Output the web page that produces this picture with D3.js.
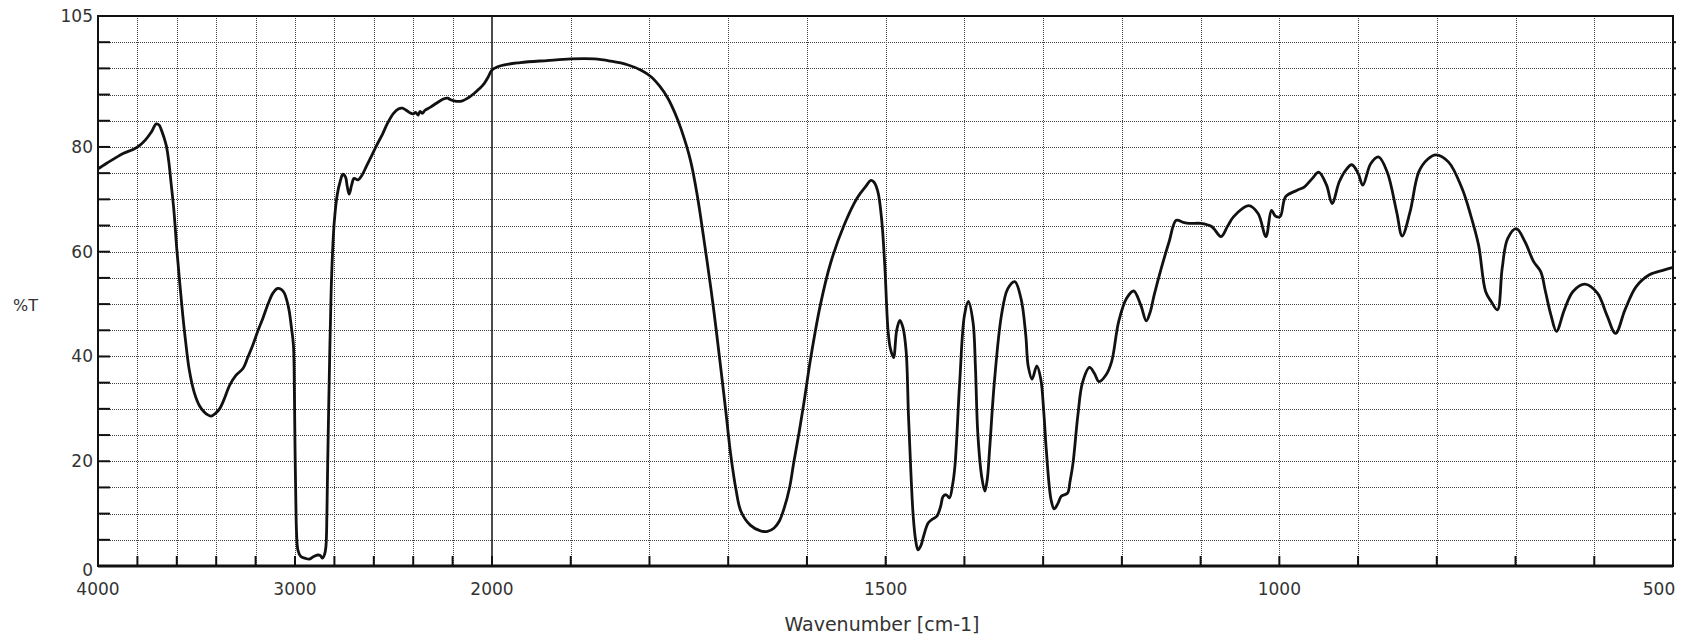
<!DOCTYPE html>
<html>
<head>
<meta charset="utf-8">
<script src="https://cdn.jsdelivr.net/npm/d3@7"></script>
<style>
  body { margin: 0; background: #fff; }
  svg text { font-family: "DejaVu Sans", sans-serif; fill: #333; }
</style>
</head>
<body>
<div id="chart"></div>
<script>
// spectrum (wavenumber cm-1 -> %T)
const wavenumbers = [
  4000, 3960, 3925, 3870, 3817, 3785, 3758, 3730, 3704, 3690, 3680, 3665, 3653, 3640, 3631, 3615,
  3600, 3585, 3570, 3555, 3537, 3512, 3485, 3461, 3440, 3425, 3405, 3383, 3360, 3332, 3300, 3264, 3240,
  3214, 3190, 3163, 3135, 3112, 3088, 3070, 3054, 3040, 3029, 3018, 3008, 3003, 3000, 2996, 2992,
  2985, 2970, 2950, 2927, 2905, 2885, 2872, 2860, 2850, 2843, 2838, 2834, 2826, 2817, 2808, 2800,
  2785, 2770, 2757, 2744, 2735, 2725, 2712, 2700, 2680, 2660, 2634, 2610, 2583, 2555, 2532, 2500,
  2473, 2455, 2439, 2420, 2400, 2388, 2375, 2365, 2354, 2340, 2312, 2280, 2244, 2225, 2210, 2180,
  2150, 2120, 2091, 2065, 2040, 2020, 2000, 1989, 1964, 1930, 1900, 1870, 1850, 1828, 1810, 1798,
  1787, 1777, 1768, 1760, 1748, 1739, 1731, 1722, 1716, 1710, 1703, 1697, 1690, 1684, 1672, 1659,
  1650, 1642, 1635, 1629, 1622, 1617, 1610, 1604, 1595, 1583, 1570, 1553, 1536, 1525, 1519, 1515,
  1510, 1505, 1501, 1497, 1494, 1490, 1486, 1482, 1478, 1474, 1471, 1468, 1465, 1462, 1459, 1455,
  1452, 1446, 1440, 1435, 1430, 1427, 1423, 1419, 1415, 1412, 1406, 1400, 1395, 1389, 1386, 1383,
  1378, 1374, 1371, 1368, 1362, 1353, 1345, 1336, 1328, 1322, 1319, 1314, 1308, 1303, 1299, 1296,
  1290, 1286, 1281, 1277, 1269, 1266, 1262, 1256, 1250, 1241, 1235, 1229, 1220, 1213, 1204, 1194,
  1185, 1176, 1169, 1164, 1159, 1150, 1140, 1131, 1122, 1114, 1100, 1086, 1074, 1066, 1058, 1039,
  1027, 1017, 1010, 1005, 999, 992, 978, 968, 958, 950, 940, 933, 924, 916, 908, 900,
  894, 884, 874, 863, 851, 844, 834, 823, 812, 801, 785, 768, 757, 747, 738, 731,
  723, 717, 710, 699, 688, 677, 668, 662, 655, 648, 638, 627, 612, 596, 584, 573,
  561, 547, 530, 512, 500
];
const transmittance = [
  75.8, 76.8, 77.6, 78.8, 79.6, 80.4, 81.4, 82.8, 84.4, 84.2, 83.4, 81.8, 80.2, 77, 73.8, 68,
  60.5, 54, 48, 42.8, 37.5, 33.2, 30.6, 29.4, 28.8, 28.6, 29.1, 30, 31.8, 34.5, 36.4, 37.7, 39.8,
  42.2, 44.7, 47.3, 50.2, 52.1, 53, 52.8, 52.1, 50.5, 48.6, 45.5, 42.2, 33, 23, 13, 6.3,
  3, 1.8, 1.5, 1.3, 1.8, 2.1, 2.0, 1.5, 2.2, 3.7, 10, 19.7, 36, 51.8, 61, 66,
  71, 73.5, 74.8, 74.3, 72.5, 71, 72.8, 74, 73.7, 74.6, 76.6, 78.4, 80.5, 82.5, 84.4, 86.4,
  87.3, 87.4, 87.1, 86.6, 86.3, 86.6, 86.1, 86.8, 86.4, 87, 87.6, 88.4, 89.2, 89.3, 89, 88.7,
  88.8, 89.4, 90.2, 91.1, 92.1, 93.3, 94.7, 95.5, 96.1, 96.5, 96.8, 96.8, 96.4, 95.7, 94.6, 93.4,
  91.6, 89.4, 86.6, 83.5, 77.5, 70.5, 62.5, 53, 46, 38.5, 29.5, 21.5, 14.5, 10.5, 7.8, 6.7,
  6.6, 7.2, 8.6, 11, 15, 19.5, 25.5, 31, 39.9, 49.8, 57.8, 65, 70.3, 72.5, 73.6, 73.3,
  71.5, 66, 57, 45, 41.5, 39.8, 45, 46.9, 45.5, 41, 28.6, 18, 9.5, 5, 3.1, 4,
  5.6, 8.2, 9, 9.5, 11.5, 13.3, 13.6, 13, 15.5, 19.1, 35, 47.8, 50.5, 46.5, 38, 25.4,
  17, 14.3, 16.5, 22.2, 35, 47.8, 52.9, 54.3, 51, 44, 38.2, 35.7, 38.2, 35.7, 29, 22.2,
  12.7, 10.9, 12, 13.3, 13.9, 16, 19.7, 28.6, 35, 37.9, 36.8, 35.2, 36.5, 39, 46.7, 51.1,
  52.5, 49.8, 46.8, 48.5, 51.7, 56.8, 61.9, 66, 65.6, 65.4, 65.4, 64.8, 62.9, 64.8, 66.7, 68.8,
  67.3, 62.9, 67.9, 66.8, 66.7, 70.5, 71.7, 72.4, 74, 75.2, 72.7, 69.2, 73.3, 75.5, 76.6, 75,
  72.7, 76.8, 78.1, 75.2, 67.6, 63, 67.6, 75.2, 77.6, 78.5, 77.1, 72.1, 67, 61.3, 52.4, 50.5,
  48.9, 56.8, 62.5, 64.4, 61.9, 58.1, 56.2, 52.4, 47.9, 44.8, 48.9, 52.4, 53.8, 52.1, 47.9, 44.4,
  48.9, 53.3, 55.6, 56.5, 57
];

const xTickLabels = [4000, 3000, 2000, 1500, 1000, 500];
const yTickLabels = [0, 20, 40, 60, 80, 105];
const xGridHigh = [3800, 3600, 3400, 3200, 3000, 2800, 2600, 2400, 2200];
const xGridLow = [1900, 1800, 1700, 1600, 1500, 1400, 1300, 1200, 1100, 1000, 900, 800, 700, 600];
const yGrid = d3.range(5, 105, 5);

const width = 1708, height = 640;
const plot = { left: 98, right: 1673, top: 16, bottom: 566 };

const svg = d3.select('#chart').append('svg')
    .attr('width', width)
    .attr('height', height);

// IR style axis: 4000-2000 compressed, 2000-500 expanded
const x = d3.scaleLinear()
    .domain([4000, 2000, 500])
    .range([plot.left, 492, plot.right]);
const y = d3.scaleLinear()
    .domain([0, 105])
    .range([plot.bottom, plot.top]);

// grid
const grid = svg.append('g')
    .attr('stroke', '#444')
    .attr('stroke-width', 1)
    .attr('stroke-dasharray', '1,1');

grid.selectAll('.hg')
    .data(yGrid)
    .join('line')
    .attr('class', 'hg')
    .attr('x1', plot.left).attr('x2', plot.right)
    .attr('y1', d => Math.round(y(d)) + 0.5)
    .attr('y2', d => Math.round(y(d)) + 0.5);

grid.selectAll('.vg')
    .data(xGridHigh.concat(xGridLow))
    .join('line')
    .attr('class', 'vg')
    .attr('y1', plot.top).attr('y2', plot.bottom)
    .attr('x1', d => Math.round(x(d)) + 0.5)
    .attr('x2', d => Math.round(x(d)) + 0.5);

// solid divider at 2000
svg.append('line')
    .attr('x1', x(2000)).attr('x2', x(2000))
    .attr('y1', plot.top).attr('y2', plot.bottom)
    .attr('stroke', '#111')
    .attr('stroke-width', 1.5);

// ticks
const ticks = svg.append('g').attr('stroke', '#111').attr('stroke-width', 2);
ticks.selectAll('.bt')
    .data(xGridHigh.concat([2000], xGridLow))
    .join('line')
    .attr('class', 'bt')
    .attr('x1', d => x(d)).attr('x2', d => x(d))
    .attr('y1', plot.bottom).attr('y2', plot.bottom - 10);
ticks.selectAll('.lt')
    .data(yGrid)
    .join('line')
    .attr('class', 'lt')
    .attr('x1', plot.left).attr('x2', plot.left + 12)
    .attr('y1', d => y(d)).attr('y2', d => y(d));
ticks.selectAll('.rt')
    .data(yGrid)
    .join('line')
    .attr('class', 'rt')
    .attr('x1', plot.right).attr('x2', plot.right + 3)
    .attr('y1', d => y(d)).attr('y2', d => y(d));

// frame
svg.append('rect')
    .attr('x', plot.left).attr('y', plot.top)
    .attr('width', plot.right - plot.left).attr('height', plot.bottom - plot.top)
    .attr('fill', 'none')
    .attr('stroke', '#111')
    .attr('stroke-width', 2);
svg.append('line')
    .attr('x1', plot.left).attr('x2', plot.right)
    .attr('y1', plot.bottom).attr('y2', plot.bottom)
    .attr('stroke', '#111').attr('stroke-width', 3);

// spectrum
const points = wavenumbers.map((w, i) => [w, transmittance[i]]);
const line = d3.line()
    .x(d => x(d[0]))
    .y(d => y(d[1]))
    .curve(d3.curveCatmullRom.alpha(0.5));

svg.append('path')
    .datum(points)
    .attr('d', line)
    .attr('fill', 'none')
    .attr('stroke', '#111')
    .attr('stroke-width', 2.8)
    .attr('stroke-linejoin', 'round');

// labels
svg.selectAll('.xl')
    .data(xTickLabels)
    .join('text')
    .attr('class', 'xl')
    .attr('x', d => d === 500 ? x(d) - 14 : x(d))
    .attr('y', 595)
    .attr('text-anchor', 'middle')
    .style('font-size', '17px')
    .text(d => d);

svg.selectAll('.yl')
    .data(yTickLabels)
    .join('text')
    .attr('class', 'yl')
    .attr('x', 93)
    .attr('y', d => d === 0 ? y(d) + 10 : y(d) + 6)
    .attr('text-anchor', 'end')
    .style('font-size', '17px')
    .text(d => d);

svg.append('text')
    .attr('x', 13)
    .attr('y', 311)
    .style('font-size', '16px')
    .text('%T');

svg.append('text')
    .attr('x', 882)
    .attr('y', 631)
    .attr('text-anchor', 'middle')
    .style('font-size', '19px')
    .text('Wavenumber [cm-1]');
</script>
</body>
</html>
